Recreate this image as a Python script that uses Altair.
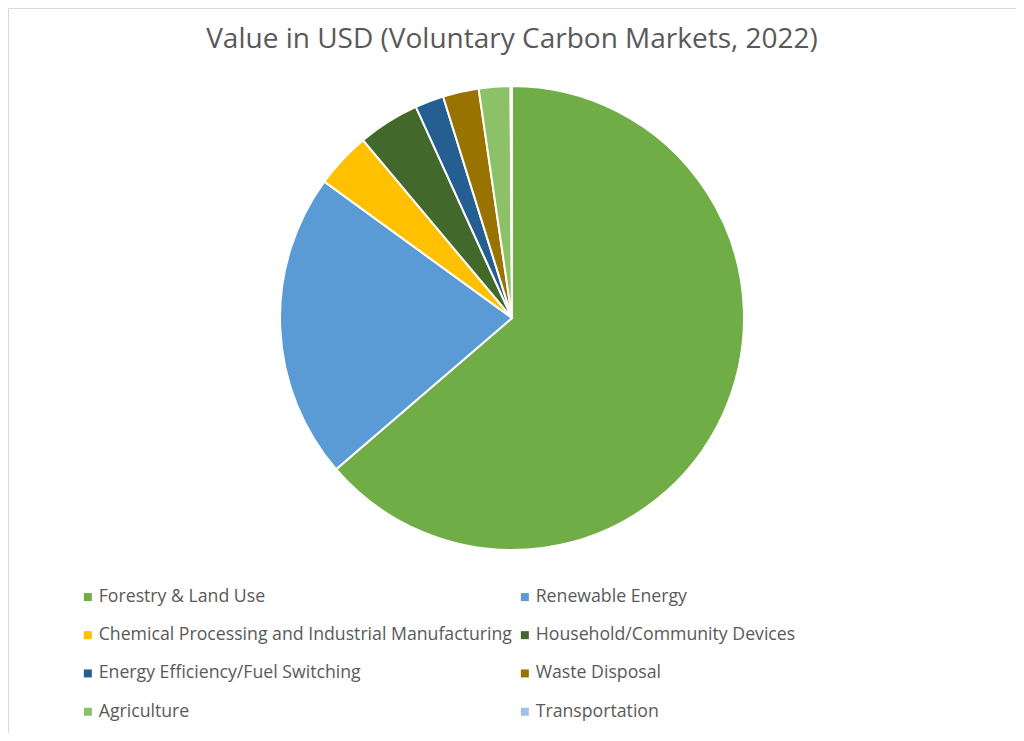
import altair as alt
import pandas as pd

categories = [
    "Forestry & Land Use",
    "Renewable Energy",
    "Chemical Processing and Industrial Manufacturing",
    "Household/Community Devices",
    "Energy Efficiency/Fuel Switching",
    "Waste Disposal",
    "Agriculture",
    "Transportation",
]
values = [63.7, 21.3, 3.9, 4.3, 2.0, 2.5, 2.2, 0.1]
colors = ["#70AD47", "#5B9BD5", "#FFC000", "#43682B", "#255E91", "#997300", "#8CC168", "#9DC3E6"]
chart_title = "Value in USD (Voluntary Carbon Markets, 2022)"

# legend is filled column by column; list entries so they read row by row (2 columns)
legend_order = categories[0::2] + categories[1::2]
legend_colors = [colors[categories.index(c)] for c in legend_order]

df = pd.DataFrame({"category": categories, "value": values, "order": list(range(len(categories)))})

W, H = 1008, 725
FONT = "Open Sans"
GREY = "#595959"
LFS = 17.7

pie = alt.Chart(df).mark_arc(radius=232, stroke="white", strokeWidth=2).encode(
    theta=alt.Theta("value:Q", stack=True),
    order=alt.Order("order:Q"),
    color=alt.Color(
        "category:N",
        scale=alt.Scale(domain=legend_order, range=legend_colors),
        legend=alt.Legend(
            title=None,
            orient="none",
            legendX=71,
            legendY=580,
            columns=2,
            symbolType="square",
            symbolSize=64,
            symbolStrokeWidth=0,
            labelFont=FONT,
            labelFontSize=LFS,
            labelColor=GREY,
            labelOffset=2,
            labelLimit=0,
            rowPadding=37 - LFS,
            columnPadding=4,
            padding=0,
        ),
    ),
    x=alt.value(504),
    y=alt.value(310),
    tooltip=["category:N", "value:Q"],
)

title_df = pd.DataFrame({"t": [chart_title]})
title_text = alt.Chart(title_df).mark_text(
    font=FONT, fontSize=28, color=GREY, baseline="alphabetic", align="center"
).encode(text="t:N", x=alt.value(504), y=alt.value(40))

chart = alt.layer(pie, title_text).properties(
    width=W, height=H, padding=0, autosize="none"
).configure_view(stroke="#D9D9D9", strokeWidth=1)

chart.save("out.html", embed_options={"renderer": "svg", "actions": False})
